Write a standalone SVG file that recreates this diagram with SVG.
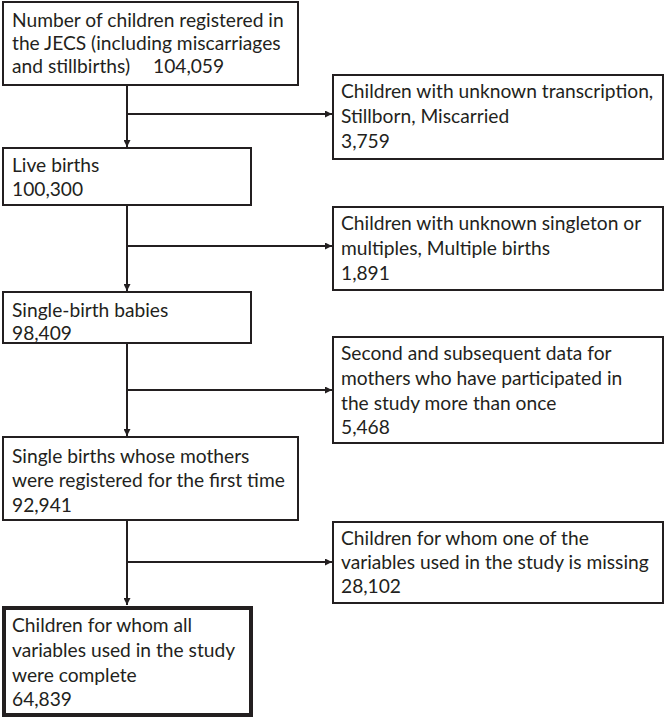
<svg xmlns="http://www.w3.org/2000/svg" width="665" height="719" viewBox="0 0 665 719">
<style>
rect.b{fill:#fff;stroke:#231f20;stroke-width:2}
rect.t{fill:#fff;stroke:#231f20;stroke-width:4}
text{font-family:Lato,"Open Sans",sans-serif;font-size:19.2px;fill:#231f20}
.c line{stroke:#231f20;stroke-width:2}
</style>
<defs>
<marker id="ah" viewBox="0 0 10 10" refX="10" refY="5" markerWidth="7" markerHeight="7" markerUnits="userSpaceOnUse" orient="auto">
<path d="M0,0L10,5L0,10z" fill="#231f20"/>
</marker>
</defs>
<g class="c" id="connectors">
<line x1="127" y1="85" x2="127" y2="147" marker-end="url(#ah)"/>
<line x1="127" y1="114" x2="332" y2="114" marker-end="url(#ah)"/>
<line x1="127" y1="205" x2="127" y2="291" marker-end="url(#ah)"/>
<line x1="127" y1="246" x2="332" y2="246" marker-end="url(#ah)"/>
<line x1="127" y1="343" x2="127" y2="436" marker-end="url(#ah)"/>
<line x1="127" y1="390" x2="332" y2="390" marker-end="url(#ah)"/>
<line x1="127" y1="520" x2="127" y2="605" marker-end="url(#ah)"/>
<line x1="127" y1="562" x2="332" y2="562" marker-end="url(#ah)"/>
</g>
<g id="n1"><rect class="b" x="3" y="2" width="295" height="83"/>
<text x="12" y="27">Number of children registered in</text>
<text x="12" y="50">the JECS (including miscarriages</text>
<text x="12" y="73">and stillbirths)<tspan x="153">104,059</tspan></text></g>
<g id="n2"><rect class="b" x="333" y="75" width="330" height="84"/>
<text x="341" y="98">Children with unknown transcription,</text>
<text x="341" y="123">Stillborn, Miscarried</text>
<text x="341" y="148">3,759</text></g>
<g id="n3"><rect class="b" x="3" y="148" width="248" height="57"/>
<text x="12" y="172">Live births</text>
<text x="12" y="196">100,300</text></g>
<g id="n4"><rect class="b" x="333" y="207" width="330" height="83"/>
<text x="341" y="230">Children with unknown singleton or</text>
<text x="341" y="255">multiples, Multiple births</text>
<text x="341" y="280">1,891</text></g>
<g id="n5"><rect class="b" x="3" y="292" width="248" height="51"/>
<text x="12" y="317">Single-birth babies</text>
<text x="12" y="340">98,409</text></g>
<g id="n6"><rect class="b" x="333" y="337" width="330" height="106"/>
<text x="341" y="360">Second and subsequent data for</text>
<text x="341" y="385">mothers who have participated in</text>
<text x="341" y="410">the study more than once</text>
<text x="341" y="434">5,468</text></g>
<g id="n7"><rect class="b" x="3" y="437" width="295" height="83"/>
<text x="12" y="463">Single births whose mothers</text>
<text x="12" y="487">were registered for the first time</text>
<text x="12" y="512">92,941</text></g>
<g id="n8"><rect class="b" x="333" y="522" width="330" height="81"/>
<text x="341" y="545">Children for whom one of the</text>
<text x="341" y="569">variables used in the study is missing</text>
<text x="341" y="593">28,102</text></g>
<g id="n9"><rect class="t" x="4" y="608" width="247" height="107"/>
<text x="12" y="632">Children for whom all</text>
<text x="12" y="657">variables used in the study</text>
<text x="12" y="682">were complete</text>
<text x="12" y="706">64,839</text></g>
</svg>
